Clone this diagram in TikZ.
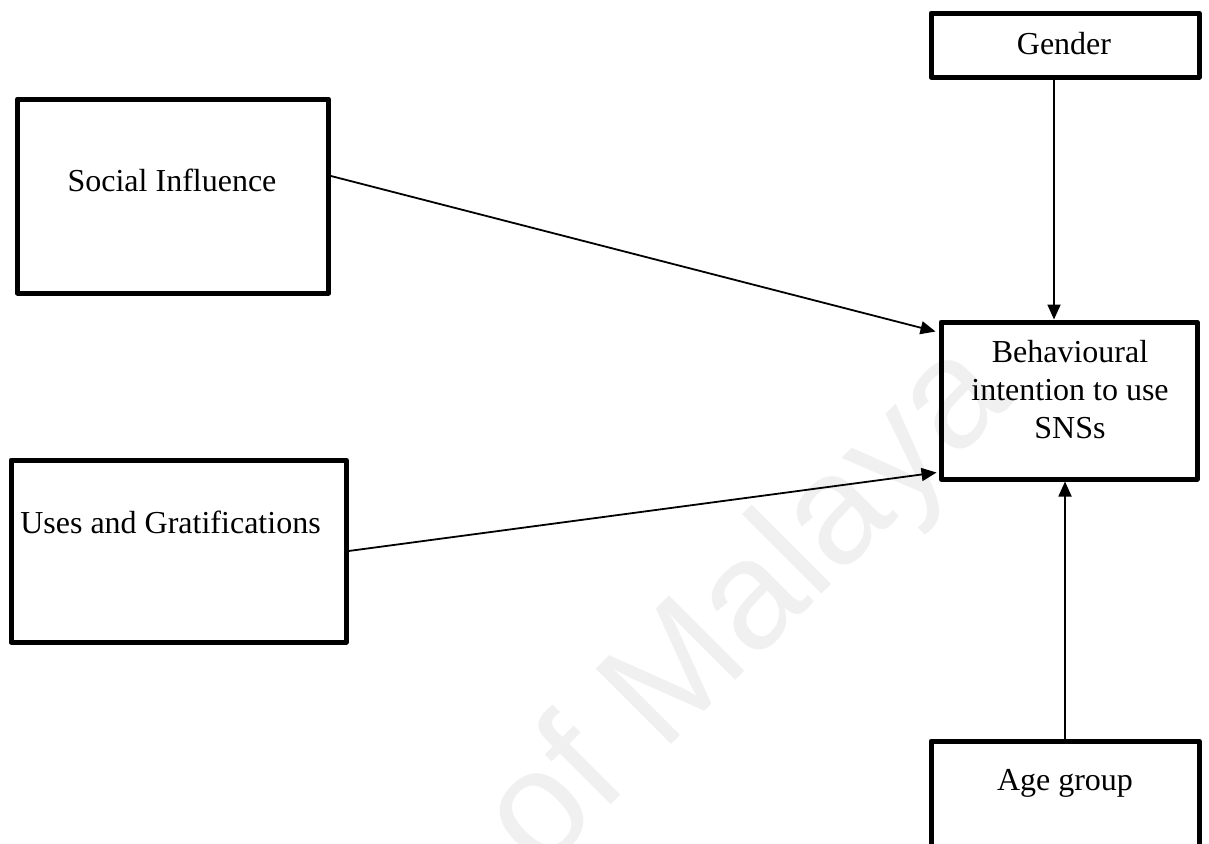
\documentclass[tikz,border=0pt]{standalone}
\usepackage{fontspec}
\setmainfont{Liberation Serif}
\newfontfamily\markfont{Liberation Sans}
\usetikzlibrary{arrows.meta, positioning}

\begin{document}
\begin{tikzpicture}[
    x=0.5pt, y=-0.5pt,
    font=\fontsize{16}{19}\selectfont,
    box/.style={rectangle, draw, line width=2.5pt, line join=round, inner sep=0pt},
    txt/.style={anchor=base, inner sep=0pt},
    arr/.style={-{Triangle[length=7.5pt,width=6.5pt]}, line width=0.9pt}
]
    \useasboundingbox (0,0) rectangle (1209,843);
    \clip (0,0) rectangle (1209,843);

    % Watermark
    \node[anchor=base west, rotate=45, inner sep=0pt, text=black!6,
          font=\markfont\fontsize{77.5}{77.5}\selectfont] (mark) at (540,876) {of Malaya};

    % Boxes for the constructs
    \node[box, minimum width=155.5pt, minimum height=97pt] (social) at (173,196) {};
    \node[box, minimum width=167.5pt, minimum height=91pt] (uses) at (178.5,551) {};
    \node[box, minimum width=134pt, minimum height=32pt] (gender) at (1065,45) {};
    \node[box, minimum width=128pt, minimum height=78.5pt] (beh) at (1069,400.5) {};
    \node[box, minimum width=134pt, minimum height=90pt] (age) at (1065,831) {};

    % Labels
    \node[txt] (social-t) at (172,191) {Social Influence};
    \node[txt] (uses-t) at (170.5,533) {Uses and Gratifications};
    \node[txt] (gender-t) at (1064,54) {Gender};
    \node[txt, align=center] (beh-t) at (1070,438) {Behavioural\\intention to use\\SNSs};
    \node[txt] (age-t) at (1065,790) {Age group};

    % Paths into behavioural intention
    \draw[arr] ([shift={(0,-20)}]social.east) -- ([shift={(-3,12)}]beh.north west);
    \draw[arr] (uses.east) -- ([shift={(-2,-9)}]beh.south west);
    \draw[arr] ([xshift=-5.5pt]gender.south) -- ([xshift=-5.5pt]gender.south |- beh.north);
    \draw[arr] (age.north) -- (age.north |- beh.south);
\end{tikzpicture}
\end{document}
